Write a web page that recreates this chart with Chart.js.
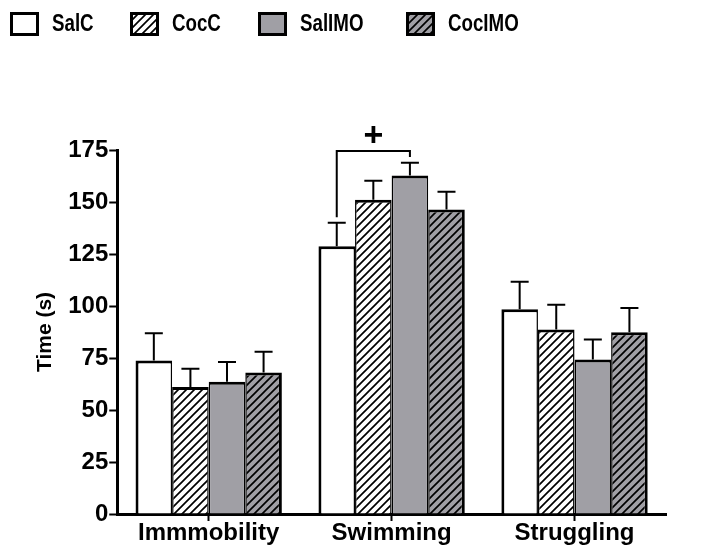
<!DOCTYPE html>
<html>
<head>
<meta charset="utf-8">
<script src="https://cdn.jsdelivr.net/npm/chart.js@4.4.1/dist/chart.umd.min.js"></script>
<style>
  html, body { margin: 0; padding: 0; background: #fff; }
  #wrap { width: 709px; height: 548px; position: relative; }
</style>
</head>
<body>
<div id="wrap"><canvas id="chart"></canvas></div>
<script>
// ===== DATA =====
const categories = ["Immmobility", "Swimming", "Struggling"];
const seriesNames = ["SalC", "CocC", "SalIMO", "CocIMO"];

const salC = [73.8, 128.7, 98.4];
const salCErr = [13.1, 11.3, 13.3];
const cocC = [61.1, 151.1, 88.7];
const cocCErr = [8.7, 9.1, 11.9];
const salIMO = [63.6, 162.8, 74.3];
const salIMOErr = [9.5, 6.1, 9.6];
const cocIMO = [68.0, 146.4, 87.4];
const cocIMOErr = [10.0, 8.5, 11.6];

const yTicks = [0, 25, 50, 75, 100, 125, 150, 175];

// significance bracket (Swimming: SalC vs SalIMO)
const bracketCat = 1;
const bracketTop = 174.5;
const bracketLeftEnd = 142.7;
const bracketRightEnd = 171.6;
const bracketMark = "+";

// ===== STYLES =====
const GRAY = "#a09fa5";
const FONT = "'Liberation Sans', Arial, sans-serif";

function hatch(bg) {
    const c = document.createElement("canvas");
    c.width = 8; c.height = 8;
    const g = c.getContext("2d");
    g.fillStyle = bg;
    g.fillRect(0, 0, 8, 8);
    g.strokeStyle = "#000";
    g.lineWidth = 1.7;
    g.beginPath();
    g.moveTo(-2, 10); g.lineTo(10, -2);
    g.moveTo(-2, 2); g.lineTo(2, -2);
    g.moveTo(6, 10); g.lineTo(10, 6);
    g.stroke();
    return document.getElementById("chart").getContext("2d").createPattern(c, "repeat");
}

const fills = ["#ffffff", hatch("#ffffff"), GRAY, hatch(GRAY)];
const errs = [salCErr, cocCErr, salIMOErr, cocIMOErr];
const values = [salC, cocC, salIMO, cocIMO];
const borders = [
    { top: 3, left: 3, right: 1.5, bottom: 0 },
    { top: 3, left: 1.5, right: 1.5, bottom: 0 },
    { top: 3, left: 1.5, right: 1.5, bottom: 0 },
    { top: 3, left: 1.5, right: 3, bottom: 0 }
];

// ===== PLUGINS =====
const errorBars = {
    id: "errorBars",
    afterDatasetsDraw(chart) {
        const ctx = chart.ctx;
        const y = chart.scales.y;
        ctx.save();
        ctx.strokeStyle = "#000";
        ctx.lineWidth = 2;
        chart.data.datasets.forEach((ds, di) => {
            const meta = chart.getDatasetMeta(di);
            meta.data.forEach((bar, i) => {
                const top = y.getPixelForValue(ds.data[i] + ds.errors[i]);
                ctx.beginPath();
                ctx.moveTo(bar.x, bar.y);
                ctx.lineTo(bar.x, top);
                ctx.moveTo(bar.x - 9, top);
                ctx.lineTo(bar.x + 9, top);
                ctx.stroke();
            });
        });
        ctx.restore();
    }
};

const bracket = {
    id: "bracket",
    afterDraw(chart) {
        const ctx = chart.ctx;
        const y = chart.scales.y;
        const xl = chart.getDatasetMeta(0).data[bracketCat].x;
        const xr = chart.getDatasetMeta(2).data[bracketCat].x;
        const yt = y.getPixelForValue(bracketTop);
        ctx.save();
        ctx.strokeStyle = "#000";
        ctx.lineWidth = 2;
        ctx.beginPath();
        ctx.moveTo(xl, y.getPixelForValue(bracketLeftEnd));
        ctx.lineTo(xl, yt);
        ctx.lineTo(xr, yt);
        ctx.lineTo(xr, y.getPixelForValue(bracketRightEnd));
        ctx.stroke();
        ctx.fillStyle = "#000";
        ctx.font = "bold 34px " + FONT;
        ctx.textAlign = "center";
        ctx.textBaseline = "middle";
        ctx.fillText(bracketMark, (xl + xr) / 2, yt - 14);
        ctx.restore();
    }
};

const topLegend = {
    id: "topLegend",
    afterDraw(chart) {
        const ctx = chart.ctx;
        const boxX = [10, 130, 258, 406];
        ctx.save();
        ctx.textBaseline = "middle";
        chart.data.datasets.forEach((ds, i) => {
            const x = boxX[i];
            ctx.fillStyle = ds.backgroundColor;
            ctx.fillRect(x, 12, 29, 24);
            ctx.strokeStyle = "#000";
            ctx.lineWidth = 3;
            ctx.strokeRect(x + 1.5, 13.5, 26, 21);
            ctx.save();
            ctx.translate(x + 42, 24);
            ctx.scale(0.78, 1);
            ctx.fillStyle = "#000";
            ctx.font = "bold 24px " + FONT;
            ctx.fillText(ds.label, 0, 0);
            ctx.restore();
        });
        ctx.restore();
    }
};

// ===== CHART =====
const chart = new Chart(document.getElementById("chart").getContext("2d"), {
    type: "bar",
    data: {
        labels: categories,
        datasets: seriesNames.map((name, i) => ({
            label: name,
            data: values[i],
            errors: errs[i],
            backgroundColor: fills[i],
            borderColor: "#000",
            borderWidth: borders[i],
            borderSkipped: false,
            barPercentage: 1.0,
            categoryPercentage: 0.8
        }))
    },
    options: {
        responsive: true,
        maintainAspectRatio: false,
        animation: false,
        layout: { padding: { top: 150, right: 43, bottom: 3, left: 33 } },
        plugins: {
            legend: { display: false },
            tooltip: { enabled: false }
        },
        scales: {
            x: {
                grid: {
                    offset: false,
                    drawOnChartArea: false,
                    tickLength: 7,
                    tickWidth: 2,
                    tickColor: "#000"
                },
                border: { display: true, color: "#000", width: 3 },
                ticks: {
                    color: "#000",
                    padding: 0,
                    font: { family: FONT, size: 24, weight: "bold", lineHeight: 1 }
                }
            },
            y: {
                min: 0,
                max: 175,
                afterBuildTicks(axis) {
                    axis.ticks = yTicks.map(v => ({ value: v }));
                },
                grid: {
                    drawOnChartArea: false,
                    tickLength: 8,
                    tickWidth: 2,
                    tickColor: "#000"
                },
                border: { display: true, color: "#000", width: 3 },
                ticks: {
                    color: "#000",
                    padding: 1,
                    font: { family: FONT, size: 24, weight: "bold" }
                },
                title: {
                    display: true,
                    text: "Time (s)",
                    color: "#000",
                    padding: { top: 0, bottom: 9 },
                    font: { family: FONT, size: 21, weight: "bold" }
                }
            }
        }
    },
    plugins: [errorBars, bracket, topLegend]
});
</script>
</body>
</html>
